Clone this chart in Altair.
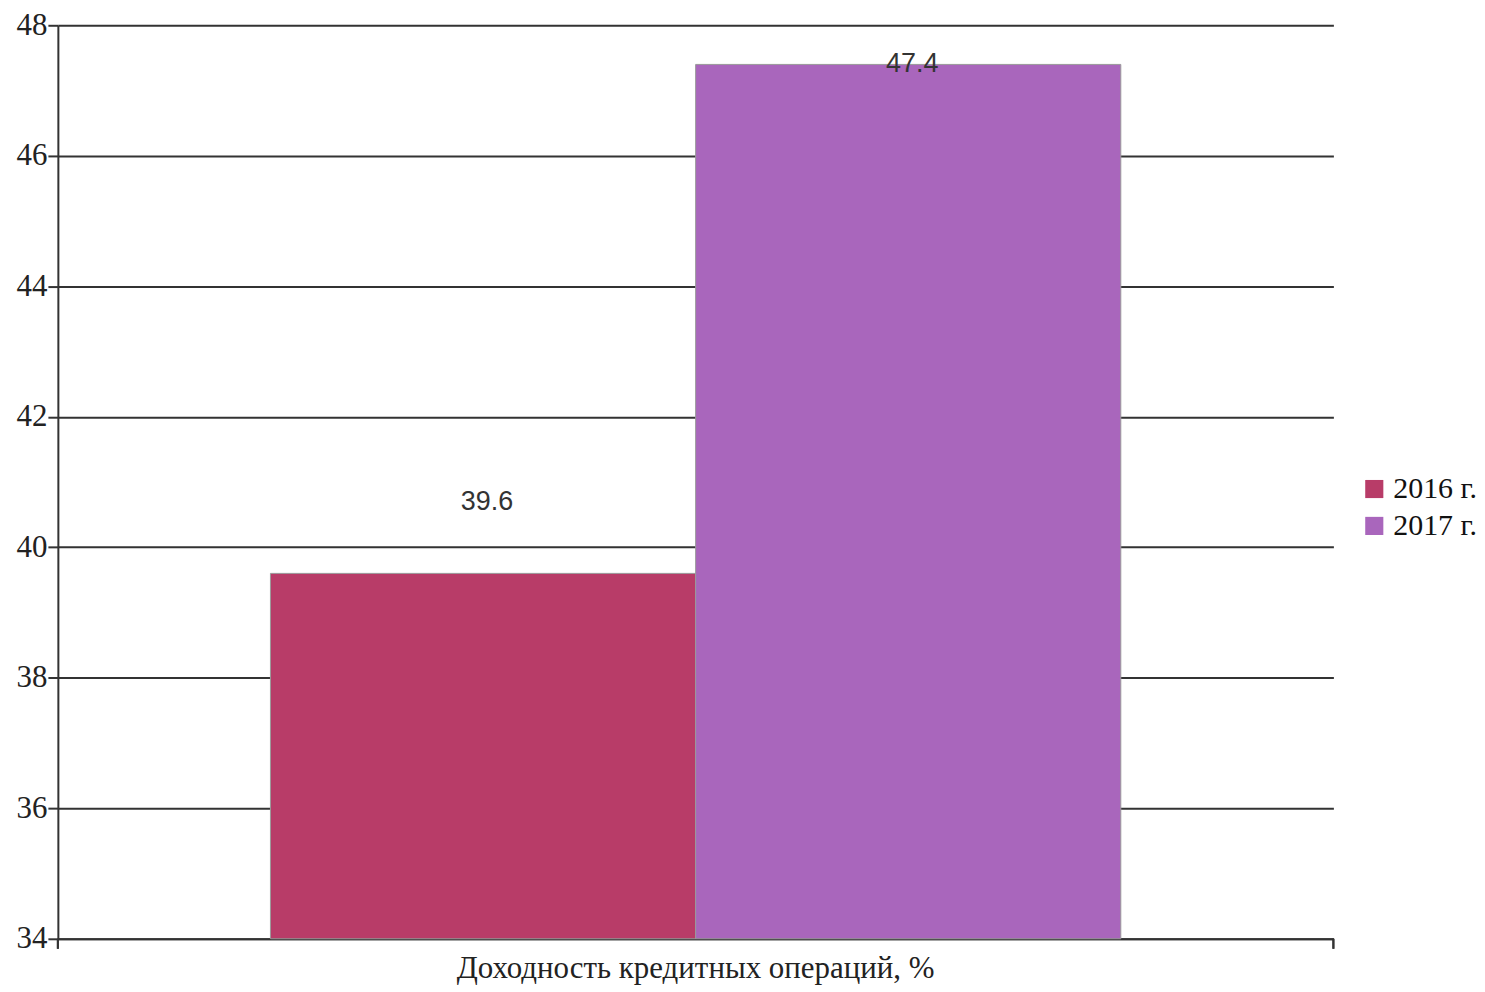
import altair as alt
import pandas as pd

categories = ["Доходность кредитных операций, %"]
years = ["2016 г.", "2017 г."]
values = [39.6, 47.4]
colors = ["#B83C68", "#A966BC"]

df = pd.DataFrame({
    "cat": [categories[0]] * len(years),
    "year": years,
    "value": values,
})

serif = "Liberation Serif"

x_enc = alt.X("cat:N", title=None,
              scale=alt.Scale(paddingOuter=0.25, paddingInner=0),
              axis=alt.Axis(labelAngle=0, ticks=False, labelFont=serif, labelFontSize=31,
                            labelColor="#222", labelPadding=15, domainColor="#333",
                            domainWidth=2, labelLimit=0))
xo_enc = alt.XOffset("year:N", scale=alt.Scale(paddingInner=0, paddingOuter=0))

bars = alt.Chart(df).mark_bar(stroke="#9a9a9a", strokeWidth=1).encode(
    x=x_enc,
    xOffset=xo_enc,
    y=alt.Y("value:Q", title=None,
            scale=alt.Scale(domain=[34, 48], zero=False, nice=False),
            axis=alt.Axis(values=[34, 36, 38, 40, 42, 44, 46, 48], format="d",
                          labelFont=serif, labelFontSize=31, labelColor="#222",
                          tickColor="#333", tickSize=10, tickWidth=2, domainColor="#333",
                          domainWidth=2, gridColor="#333", gridWidth=2, gridOpacity=1,
                          labelPadding=1)),
    y2=alt.datum(34),
    color=alt.Color("year:N", title=None,
                    scale=alt.Scale(domain=years, range=colors),
                    legend=alt.Legend(orient="none", legendX=1305, legendY=450,
                                      symbolType="square", symbolSize=330,
                                      symbolStrokeWidth=0, labelFont=serif,
                                      labelFontSize=30, labelColor="#111",
                                      rowPadding=7, labelOffset=4)),
)

labels = alt.Chart(df).transform_calculate(
    lab_y="min(datum.value + 1.1, 47.4)"
).mark_text(font="Liberation Sans", fontSize=27, color="#333", baseline="middle", dx=4).encode(
    x=alt.X("cat:N"),
    xOffset=alt.XOffset("year:N"),
    y=alt.Y("lab_y:Q"),
    text=alt.Text("value:Q", format=".1f"),
)

tick_left = alt.Chart(df).mark_rule(color="#333", strokeWidth=2).encode(
    x=alt.value(0), y=alt.value(916), y2=alt.value(926),
)
tick_right = alt.Chart(df).mark_rule(color="#333", strokeWidth=2).encode(
    x=alt.value(1279), y=alt.value(916), y2=alt.value(926),
)

chart = alt.layer(bars, labels, tick_left, tick_right).properties(
    width=1279, height=916,
    padding={"left": 8, "top": 0, "right": 0, "bottom": 0},
).configure_view(stroke=None).configure_axis(zindex=0)

chart.save("out.html", embed_options={"renderer": "svg", "actions": False})
